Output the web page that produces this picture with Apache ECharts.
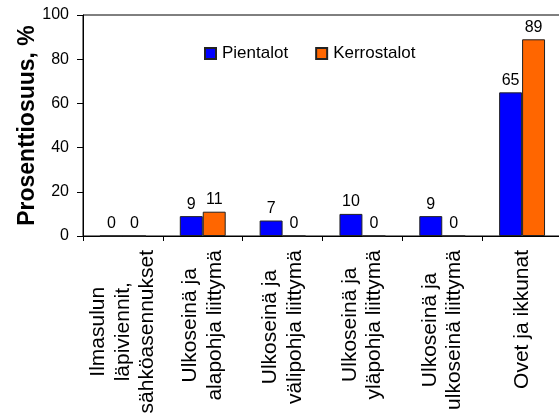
<!DOCTYPE html>
<html>
<head>
<meta charset="utf-8">
<script src="https://cdn.jsdelivr.net/npm/echarts@6/dist/echarts.min.js"></script>
<style>
  html, body { margin: 0; padding: 0; background: #fff; }
  #chart { width: 559px; height: 415px; }
</style>
</head>
<body>
<div id="chart"></div>
<script>
// Ilmavuotokohtien osuudet rakennustyypeittäin
const categories = [
  'Ilmasulun\nläpiviennit,\nsähköasennukset',
  'Ulkoseinä ja\nalapohja liittymä',
  'Ulkoseinä ja\nvälipohja liittymä',
  'Ulkoseinä ja\nyläpohja liittymä',
  'Ulkoseinä ja\nulkoseinä liittymä',
  'Ovet ja ikkunat'
];
const pientalot = [0, 9, 7, 10, 9, 65];
const kerrostalot = [0, 11, 0, 0, 0, 89];
const yTicks = [0, 20, 40, 60, 80, 100];

const FONT = '"Liberation Sans", Arial, sans-serif';

const chart = echarts.init(document.getElementById('chart'), null, { renderer: 'canvas' });

function barSeries(name, data, color) {
  return {
    name: name,
    type: 'bar',
    data: data,
    barGap: '0%',
    barCategoryGap: '42.5%',
    itemStyle: { color: color, borderColor: '#222', borderWidth: 1 },
    label: {
      show: true,
      position: 'top',
      distance: 4,
      color: '#000',
      fontFamily: FONT,
      fontSize: 16
    },
    emphasis: { disabled: true }
  };
}

chart.setOption({
  animation: false,
  backgroundColor: '#fff',
  grid: {
    left: 83, right: -3, top: 15, bottom: 179,
    outerBoundsMode: 'none',
    containLabel: false,
    show: true, borderColor: '#000', borderWidth: 1,
    backgroundColor: 'transparent'
  },
  legend: {
    left: 199, top: 40,
    itemWidth: 11, itemHeight: 11, itemGap: 27,
    icon: 'rect',
    textStyle: { fontFamily: FONT, fontSize: 17, color: '#000', padding: [0, 0, 0, 1] },
    data: ['Pientalot', 'Kerrostalot']
  },
  xAxis: {
    type: 'category',
    data: categories,
    axisLine: { lineStyle: { color: '#000', width: 1 } },
    axisTick: { show: true, length: 5, alignWithLabel: false, lineStyle: { color: '#000' } },
    axisLabel: {
      interval: 0,
      rotate: 90,
      margin: 14,
      color: '#000',
      fontFamily: FONT,
      fontSize: 21,
      formatter: function (v) {
        return v.split('\n').map(function (s) { return '{c|' + s + '}'; }).join('\n');
      },
      rich: {
        c: { align: 'center', fontFamily: FONT, fontSize: 21, lineHeight: 24.5, color: '#000' }
      }
    }
  },
  yAxis: {
    type: 'value',
    min: yTicks[0],
    max: yTicks[yTicks.length - 1],
    interval: yTicks[1] - yTicks[0],
    name: 'Prosenttiosuus, %',
    nameLocation: 'middle',
    nameRotate: 90,
    nameGap: 44,
    nameMoveOverlap: false,
    nameTextStyle: { fontFamily: FONT, fontSize: 23, fontWeight: 'bold', color: '#000' },
    axisLine: { show: true, lineStyle: { color: '#000', width: 1 } },
    axisTick: { show: true, length: 6, lineStyle: { color: '#000' } },
    splitLine: { show: false },
    axisLabel: { margin: 14, color: '#000', fontFamily: FONT, fontSize: 16 }
  },
  series: [
    barSeries('Pientalot', pientalot, '#0000ff'),
    barSeries('Kerrostalot', kerrostalot, '#ff6600')
  ]
});
</script>
</body>
</html>
